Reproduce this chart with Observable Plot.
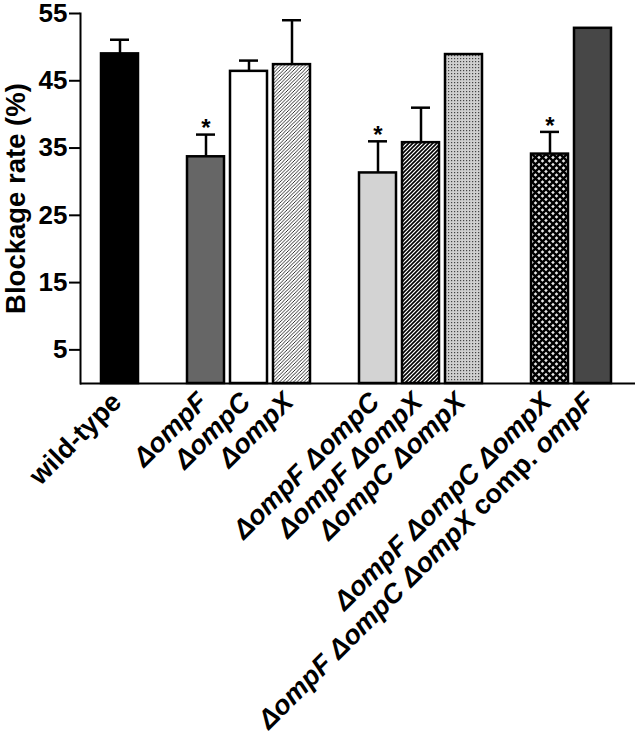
<!DOCTYPE html>
<html><head><meta charset="utf-8">
<script src="https://cdn.jsdelivr.net/npm/d3@7"></script>
<script src="https://cdn.jsdelivr.net/npm/@observablehq/plot@0.6"></script>
<style>
body{margin:0;background:#fff}
svg{font-family:"Liberation Sans",Arial,Helvetica,sans-serif;}
</style>
</head><body><div id="chart"></div>
<script>
const categories = ["wild-type","ΔompF","ΔompC","ΔompX","ΔompF ΔompC","ΔompF ΔompX","ΔompC ΔompX","ΔompF ΔompC ΔompX","ΔompF ΔompC ΔompX comp. ompF"];
const values = [49.0, 33.7, 46.4, 47.4, 31.3, 35.8, 48.9, 34.1, 52.8];
const errors = [2.1, 3.3, 1.6, 6.6, 4.7, 5.2, null, 3.3, null];
const significant = [false, true, false, false, true, false, false, true, false];
const groupOf = [0, 1, 1, 1, 2, 2, 2, 3, 3];
const yTicks = [5, 15, 25, 35, 45, 55];
const yLabel = "Blockage rate (%)";

const fills = {
  "wild-type": "#000000",
  "ΔompF": "#666666",
  "ΔompC": "#ffffff",
  "ΔompX": "url(#hatchLight)",
  "ΔompF ΔompC": "#d3d3d3",
  "ΔompF ΔompX": "url(#hatchDark)",
  "ΔompC ΔompX": "url(#dots)",
  "ΔompF ΔompC ΔompX": "url(#cross)",
  "ΔompF ΔompC ΔompX comp. ompF": "#474747"
};

const data = categories.map((name, i) => ({name, value: values[i], error: errors[i], sig: significant[i]}));
const domain = [];
categories.forEach((c, i) => { if (i > 0 && groupOf[i] !== groupOf[i - 1]) domain.push("gap" + i); domain.push(c); });
const withErr = data.filter(d => d.error != null);
const sigData = data.filter(d => d.sig);
const FONT = '"Liberation Sans",Arial,Helvetica,sans-serif';

const chart = Plot.plot({
  width: 638, height: 750,
  marginLeft: 80, marginRight: 3, marginTop: 13, marginBottom: 367,
  style: {fontFamily: FONT, fontWeight: "bold", fontSize: "26px", background: "white", color: "black", overflow: "visible"},
  x: {domain, paddingInner: 0.15, paddingOuter: 0, insetLeft: 17, insetRight: 20, axis: null},
  y: {domain: [0, 55], axis: null},
  color: {type: "identity"},
  marks: [
    Plot.barY(data, {x: "name", y: "value", fill: d => fills[d.name], stroke: "black", strokeWidth: 2.5}),
    Plot.ruleX(withErr, {x: "name", y1: "value", y2: d => d.value + d.error, stroke: "black", strokeWidth: 2.5}),
    Plot.tickY(withErr, {x: "name", y: d => d.value + d.error, stroke: "black", strokeWidth: 2.5, insetLeft: 9, insetRight: 9}),
    Plot.text(sigData, {x: "name", y: d => d.value + d.error, text: () => "*", fontSize: 24, dy: -6}),
    Plot.ruleY([0], {stroke: "black", strokeWidth: 2}),
    Plot.frame({anchor: "left", stroke: "black", strokeWidth: 2}),
    Plot.axisY({ticks: yTicks, tickSize: 11, tickPadding: 2, fontSize: 26, strokeWidth: 2, tickFormat: d => String(d),
      label: yLabel, labelAnchor: "center", labelOffset: 75, labelArrow: false}),
    Plot.text(data, {x: "name", text: "name", frameAnchor: "bottom", rotate: -45, textAnchor: "end", dx: 3, dy: 20, fontSize: 27})
  ]
});

// pattern definitions
const svgEl = chart.tagName.toLowerCase() === "svg" ? chart : chart.querySelector("svg");
const defs = d3.create("svg:defs");
function pat(id, w, h) {
  return defs.append("pattern").attr("id", id).attr("patternUnits", "userSpaceOnUse").attr("width", w).attr("height", h);
}
let p = pat("hatchLight", 3.5, 3.5);
p.append("rect").attr("width", 3.5).attr("height", 3.5).attr("fill", "#fff");
p.append("path").attr("d", "M-1,1 L1,-1 M0,3.5 L3.5,0 M2.5,4.5 L4.5,2.5").attr("stroke", "#000").attr("stroke-width", 0.8);
p = pat("hatchDark", 4, 4);
p.append("rect").attr("width", 4).attr("height", 4).attr("fill", "#fff");
p.append("path").attr("d", "M-1,1 L1,-1 M0,4 L4,0 M3,5 L5,3").attr("stroke", "#000").attr("stroke-width", 1.6);
p = pat("dots", 3, 3);
p.append("rect").attr("width", 3).attr("height", 3).attr("fill", "#cfcfcf");
p.append("rect").attr("x", 1).attr("y", 1).attr("width", 1.2).attr("height", 1.2).attr("fill", "#444");
p = pat("cross", 7, 7);
p.append("rect").attr("width", 7).attr("height", 7).attr("fill", "#e6e6e6");
p.append("path").attr("d", "M-1,-1 L8,8 M8,-1 L-1,8").attr("stroke", "#000").attr("stroke-width", 2.4);
svgEl.insertBefore(defs.node(), svgEl.firstChild);

// y-axis title size
d3.select(svgEl).selectAll("text").filter(function() { return this.textContent === yLabel; })
  .attr("font-size", 27.5).style("font-size", "27.5px");

// italic gene names in x labels
d3.select(svgEl).selectAll("text").each(function() {
  const t = this.textContent;
  if (!categories.includes(t)) return;
  const words = t.split(" ");
  const sel = d3.select(this);
  sel.text(null);
  words.forEach((w, i) => {
    sel.append("tspan")
      .attr("font-style", (w.includes("omp") && w !== "comp.") ? "italic" : "normal")
      .text(w + (i < words.length - 1 ? " " : ""));
  });
});

document.getElementById("chart").appendChild(chart);
</script>
</body></html>
